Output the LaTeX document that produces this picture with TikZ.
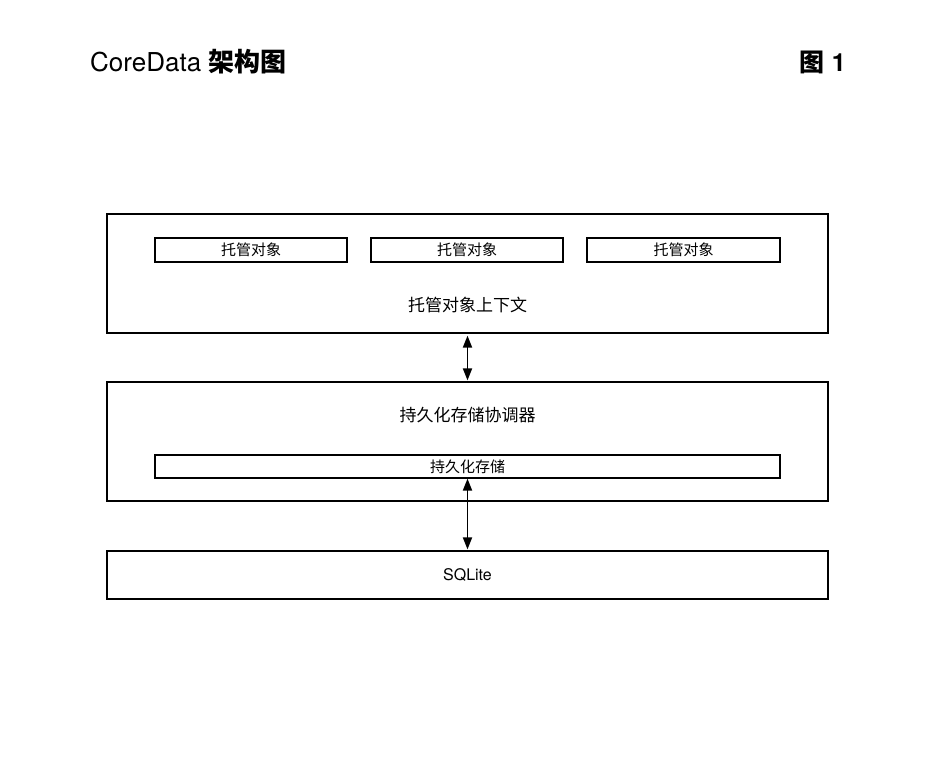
\documentclass[tikz,border=0pt]{standalone}
\usepackage{fontspec}
\setmainfont{TeX Gyre Heros}
\newfontfamily\cjk{Noto Sans CJK SC}
\usetikzlibrary{arrows.meta}

\begin{document}
\begin{tikzpicture}[x=1pt,y=-1pt,
    layer/.style={draw,line width=1.2pt,minimum width=721pt,inner sep=0pt},
    item/.style={draw,line width=1.2pt,minimum height=24pt,inner sep=0pt,
      font=\fontsize{15}{15}\selectfont\cjk},
    label/.style={inner sep=0pt,font=\fontsize{17}{17}\selectfont\cjk},
    link/.style={line width=1.8pt}]
  \useasboundingbox (0,0) rectangle (935,774);
  % title line
  \node[anchor=base west,inner sep=0pt,font=\fontsize{26}{26}\selectfont] (title) at (90,71) {CoreData {\cjk\bfseries 架构图}};
  \node[anchor=base east,inner sep=0pt,font=\fontsize{25}{25}\selectfont\bfseries] (fig) at (846,71) {{\cjk 图} 1};
  % context layer
  \node[layer,minimum height=119pt] (ctx) at (467.5,273.5) {};
  \node[item,minimum width=192pt] (obja) at (251,250) {托管对象};
  \node[item,minimum width=192pt] (objb) at (467,250) {托管对象};
  \node[item,minimum width=193pt] (objc) at (683.5,250) {托管对象};
  \node[label] (ctxtext) at (467.5,305) {托管对象上下文};
  % coordinator layer
  \node[layer,minimum height=119pt] (psc) at (467.5,441.5) {};
  \node[label] (psctext) at (467.5,415) {持久化存储协调器};
  \node[item,minimum width=625pt,minimum height=23pt] (store) at (467.5,466.5) {持久化存储};
  % database
  \node[layer,minimum height=48pt,font=\fontsize{16}{16}\selectfont] (db) at (467.5,575) {SQLite};
  % links
  \draw[link,{Stealth[length=12pt,width=9pt,inset=0pt]}-{Stealth[length=12pt,width=9pt,inset=0pt]},shorten <=2pt,shorten >=1pt] (ctx.south) -- (psc.north);
  \draw[link,{Stealth[length=12pt,width=9pt,inset=0pt]}-{Stealth[length=12pt,width=9pt,inset=0pt]},shorten >=1pt] (store.south) -- (db.north);
\end{tikzpicture}
\end{document}
